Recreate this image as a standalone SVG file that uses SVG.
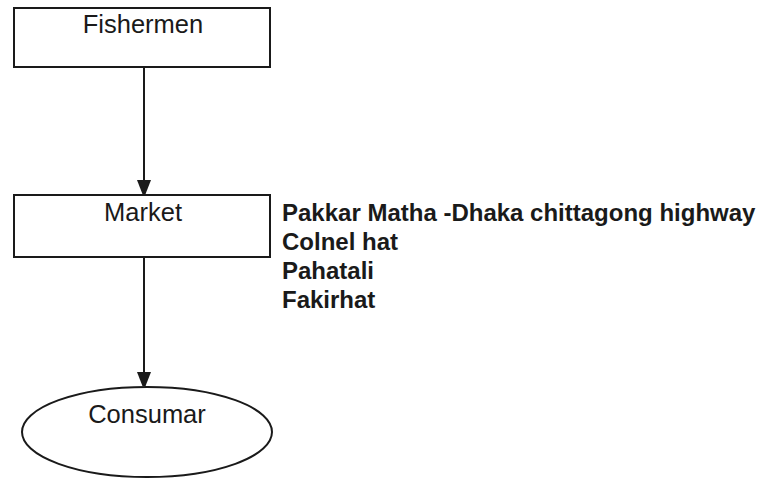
<svg xmlns="http://www.w3.org/2000/svg" width="763" height="478" viewBox="0 0 763 478">
  <defs>
    <marker id="arrow" viewBox="0 0 14 18" refX="14" refY="7" markerWidth="14" markerHeight="18" markerUnits="userSpaceOnUse" orient="auto">
      <path d="M0,0 L18,7 L0,14 Z" fill="#1a1a1a"/>
    </marker>
  </defs>
  <style>
    .box { fill: #ffffff; stroke: #1a1a1a; stroke-width: 2; }
    .label { font-family: "Liberation Sans", Arial, sans-serif; font-size: 25.5px; fill: #1a1a1a; text-anchor: middle; }
    .note { font-family: "Liberation Sans", Arial, sans-serif; font-size: 24px; font-weight: bold; fill: #1a1a1a; }
    .edge { stroke: #1a1a1a; stroke-width: 2; fill: none; }
  </style>
  <rect width="763" height="478" fill="#ffffff"/>

  <g id="connectors">
    <line class="edge" x1="144" y1="67" x2="144" y2="194" marker-end="url(#arrow)"/>
    <line class="edge" x1="144" y1="257" x2="144" y2="386" marker-end="url(#arrow)"/>
  </g>

  <g id="fishermen">
    <rect class="box" x="14" y="8" width="256" height="59"/>
    <text class="label" x="143" y="33">Fishermen</text>
  </g>

  <g id="market">
    <rect class="box" x="14" y="195" width="256" height="62"/>
    <text class="label" x="143" y="221">Market</text>
  </g>

  <g id="market-places">
    <text class="note" x="282" y="221">Pakkar Matha -Dhaka chittagong highway</text>
    <text class="note" x="282" y="250">Colnel hat</text>
    <text class="note" x="282" y="279">Pahatali</text>
    <text class="note" x="282" y="308">Fakirhat</text>
  </g>

  <g id="consumar">
    <ellipse class="box" cx="147" cy="432" rx="125" ry="45"/>
    <text class="label" x="147" y="423">Consumar</text>
  </g>
</svg>
